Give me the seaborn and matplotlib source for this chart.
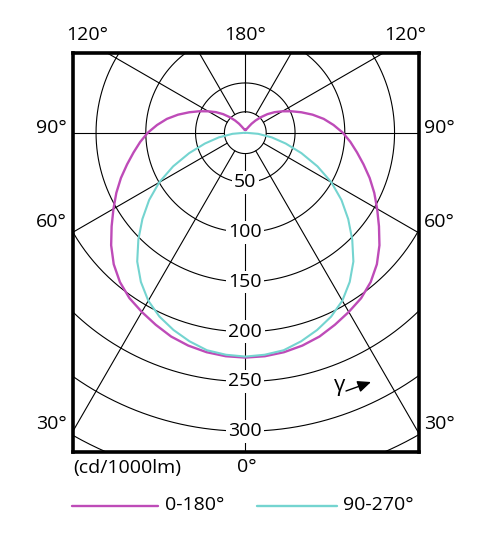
import numpy as np
import pandas as pd
import matplotlib
matplotlib.use('Agg')
import matplotlib.pyplot as plt
import seaborn as sns
from matplotlib.lines import Line2D

# ---- data (cd/1000lm vs gamma angle) ----
angles_c0 = [0, 5, 10, 15, 20, 25, 30, 35, 40, 45, 50, 55, 60, 65, 70, 75, 80, 85, 90,
             95, 100, 105, 110, 115, 120, 125, 130, 135, 140, 145, 150, 155, 160, 165, 170, 175, 180]
intensity_c0 = [226, 225.5, 224, 221.5, 218, 213, 208, 203, 196, 187, 176, 164, 153, 143, 133, 123, 114, 106, 98,
                89, 80, 70, 60, 51, 43, 36, 29, 22, 16, 11, 7, 5, 4, 3, 3, 3, 3]
angles_c90 = [0, 5, 10, 15, 20, 25, 30, 35, 40, 45, 50, 55, 60, 65, 70, 75, 80, 85, 90]
intensity_c90 = [225, 224, 222, 217, 211, 204, 195, 183, 169, 152, 135, 118, 100, 80, 60, 42, 27, 13, 0]
ring_values = [50, 100, 150, 200, 250, 300]
ring_labels = ['50', '100', '150', '200', '250', '300']
extra_rings = [350]
spoke_angles = [0, 30, 60, 90, 120, 150, 180]
legend_labels = ['0-180°', '90-270°']
unit_label = '(cd/1000lm)'
series_colors = ['#BE4BB8', '#74D4D0']

sns.set_style('white')
plt.rcParams['font.family'] = ['Open Sans', 'DejaVu Sans']
plt.rcParams['text.color'] = 'black'

W, H = 492, 550
fig = plt.figure(figsize=(W / 100, H / 100), dpi=100)
# frame in pixels: x 73..419, y 52.5..452
fx0, fx1, fy0, fy1 = 73, 419, 52.5, 452
ax = fig.add_axes([fx0 / W, 1 - fy1 / H, (fx1 - fx0) / W, (fy1 - fy0) / H])
cx, cy = 245.3, 132.7
k = 1.005


def P(xp, yp):
    return ((xp - cx) * k, (cy - yp) * k)


ax.set_xlim((fx0 - cx) * k, (fx1 - cx) * k)
ax.set_ylim((cy - fy1) * k, (cy - fy0) * k)

# grid circles
t = np.linspace(0, 2 * np.pi, 721)
for r in ring_values + extra_rings:
    ax.plot(r * np.sin(t), r * np.cos(t), color='black', lw=0.8, zorder=1)
r_in = 21
ax.plot(r_in * np.sin(t), r_in * np.cos(t), color='black', lw=0.8, zorder=1)

# spokes
for a in spoke_angles:
    for s in ([1, -1] if a not in (0, 180) else [1]):
        th = np.deg2rad(s * a)
        ax.plot([r_in * np.sin(th), 600 * np.sin(th)],
                [-r_in * np.cos(th), -600 * np.cos(th)],
                color='black', lw=0.8, zorder=1)


def mirror(angles, vals):
    a = np.asarray(angles, float)
    v = np.asarray(vals, float)
    fa = np.concatenate([-a[::-1], a[1:]])
    fv = np.concatenate([v[::-1], v[1:]])
    return fa, fv


for (angs, vals), col, lw in zip([(angles_c0, intensity_c0), (angles_c90, intensity_c90)],
                                 series_colors, [1.7, 1.5]):
    fa, fv = mirror(angs, vals)
    th = np.deg2rad(fa)
    df = pd.DataFrame({'x': fv * np.sin(th), 'y': -fv * np.cos(th)})
    sns.lineplot(data=df, x='x', y='y', sort=False, estimator=None, color=col,
                 lw=lw, ax=ax, zorder=3)

# ring labels
for r, lab in zip(ring_values, ring_labels):
    ax.text(0, -r, lab, ha='center', va='center', fontsize=14, zorder=4, color='black',
            bbox=dict(boxstyle='square,pad=0.12', fc='white', ec='none'))

fs = 14
# side labels
for lab, yp in [('90°', 128), ('60°', 222), ('30°', 424)]:
    ax.text(*P(67, yp), lab, ha='right', va='center', fontsize=fs, clip_on=False)
    ax.text(*P(424, yp), lab, ha='left', va='center', fontsize=fs, clip_on=False)
# top labels
for lab, xp in [('120°', 87), ('180°', 245.5), ('120°', 405)]:
    ax.text(*P(xp, 35), lab, ha='center', va='center', fontsize=fs, clip_on=False)
# bottom labels
ax.text(*P(73, 468), unit_label, ha='left', va='center', fontsize=fs, clip_on=False)
ax.text(*P(247, 467), '0°', ha='center', va='center', fontsize=fs, clip_on=False)

# gamma arrow
ax.text(*P(340, 385), 'γ', ha='center', va='center', fontsize=16, zorder=4)
ax.annotate('', xy=P(371, 382), xytext=P(346, 391),
            arrowprops=dict(arrowstyle='-|>,head_length=0.8,head_width=0.35', color='black', lw=1.0,
                            shrinkA=0, shrinkB=0), zorder=4)

ax.set_xticks([])
ax.set_yticks([])
ax.set_xlabel('')
ax.set_ylabel('')
for sp in ax.spines.values():
    sp.set_visible(True)
    sp.set_color('black')
    sp.set_linewidth(2.6)

# legend
ly = 1 - 506 / H
fig.add_artist(Line2D([72 / W, 158 / W], [ly, ly], color=series_colors[0], lw=1.7))
fig.text(165 / W, 1 - 505 / H, legend_labels[0], ha='left', va='center', fontsize=fs)
fig.add_artist(Line2D([257 / W, 337 / W], [ly, ly], color=series_colors[1], lw=1.7))
fig.text(343 / W, 1 - 505 / H, legend_labels[1], ha='left', va='center', fontsize=fs)

fig.savefig('out.png', dpi=100, facecolor='white')
